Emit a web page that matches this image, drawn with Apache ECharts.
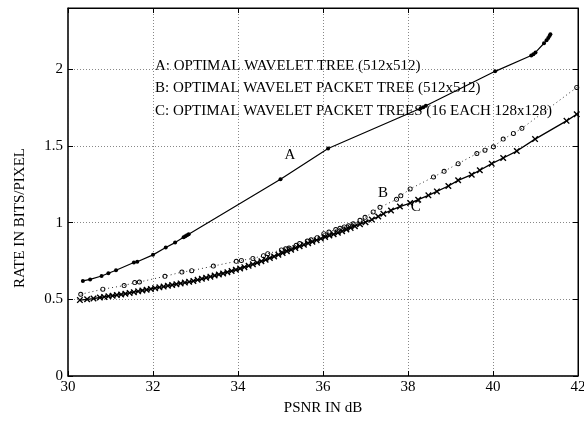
<!DOCTYPE html>
<html>
<head>
<meta charset="utf-8">
<script src="https://cdn.jsdelivr.net/npm/echarts@6/dist/echarts.min.js"></script>
<style>
html, body { margin: 0; padding: 0; background: #fff; }
#main { width: 584px; height: 423px; }
</style>
</head>
<body>
<div id="main"></div>
<script>
// curve A : optimal wavelet tree (512x512)
var aPsnr = [30.35, 30.52, 30.79, 30.95, 31.13, 31.55, 31.63, 32.00, 32.30, 32.52, 32.72, 32.76, 32.80, 32.84,
    35.00, 36.12, 38.30, 38.36, 38.42, 40.05, 40.90, 40.95, 41.00, 41.20, 41.26, 41.30, 41.33, 41.35];
var aRate = [0.620, 0.630, 0.652, 0.670, 0.690, 0.740, 0.745, 0.790, 0.838, 0.870, 0.905, 0.912, 0.918, 0.925,
    1.283, 1.484, 1.746, 1.752, 1.762, 1.987, 2.090, 2.098, 2.110, 2.170, 2.190, 2.205, 2.217, 2.228];

// curve B : optimal wavelet packet tree (512x512)
var bPsnr = [30.30, 30.82, 31.32, 31.57, 31.68, 32.28, 32.68, 32.91, 33.42, 33.96, 34.08, 34.35, 34.60, 34.70,
    35.02, 35.12, 35.20, 35.37, 35.45, 35.63, 35.72, 35.86, 36.02, 36.14, 36.30, 36.40, 36.50, 36.60, 36.71,
    36.87, 36.99, 37.18, 37.34, 37.73, 37.83, 38.05, 38.60, 38.85, 39.18, 39.62, 39.81, 40.01, 40.24, 40.48,
    40.68, 41.97];
var bRate = [0.533, 0.566, 0.590, 0.609, 0.613, 0.650, 0.678, 0.687, 0.717, 0.748, 0.754, 0.767, 0.785, 0.798,
    0.822, 0.830, 0.834, 0.852, 0.864, 0.880, 0.888, 0.902, 0.928, 0.939, 0.955, 0.963, 0.972, 0.980, 0.993,
    1.015, 1.035, 1.070, 1.100, 1.152, 1.175, 1.220, 1.298, 1.335, 1.385, 1.451, 1.473, 1.495, 1.545, 1.582,
    1.615, 1.882];

// curve C : optimal wavelet packet trees (16 each 128x128)
var cPsnr = [30.28, 30.45, 30.60, 30.75, 30.85, 30.95, 31.05, 31.15, 31.25, 31.35, 31.45, 31.55, 31.65, 31.75,
    31.85, 31.95, 32.05, 32.15, 32.25, 32.35, 32.45, 32.55, 32.65, 32.75, 32.85, 32.95, 33.05, 33.15, 33.25,
    33.35, 33.45, 33.55, 33.65, 33.75, 33.85, 33.95, 34.05, 34.15, 34.25, 34.35, 34.45, 34.55, 34.65, 34.75,
    34.85, 34.95, 35.05, 35.15, 35.25, 35.35, 35.45, 35.55, 35.65, 35.75, 35.85, 35.95, 36.05, 36.15, 36.25,
    36.35, 36.45, 36.55, 36.65, 36.75, 36.87, 37.00, 37.15, 37.30, 37.42, 37.60, 37.81, 38.05, 38.24, 38.48,
    38.68, 38.95, 39.18, 39.50, 39.69, 39.97, 40.24, 40.56, 40.99, 41.73, 41.97];
var cRate = [0.495, 0.500, 0.505, 0.512, 0.516, 0.520, 0.524, 0.528, 0.532, 0.537, 0.542, 0.547, 0.552, 0.558,
    0.563, 0.568, 0.573, 0.578, 0.583, 0.589, 0.594, 0.599, 0.604, 0.609, 0.614, 0.620, 0.627, 0.634, 0.641,
    0.648, 0.655, 0.662, 0.669, 0.677, 0.685, 0.693, 0.701, 0.710, 0.719, 0.728, 0.738, 0.748, 0.758, 0.769,
    0.780, 0.791, 0.802, 0.813, 0.824, 0.835, 0.846, 0.856, 0.866, 0.876, 0.886, 0.896, 0.906, 0.916, 0.925,
    0.934, 0.944, 0.955, 0.966, 0.977, 0.990, 1.003, 1.020, 1.040, 1.058, 1.080, 1.105, 1.128, 1.150, 1.178,
    1.204, 1.239, 1.276, 1.313, 1.342, 1.385, 1.422, 1.467, 1.545, 1.664, 1.707];

var legendLines = [
    'A: OPTIMAL WAVELET TREE (512x512)',
    'B: OPTIMAL WAVELET PACKET TREE (512x512)',
    'C: OPTIMAL WAVELET PACKET TREES (16 EACH 128x128)'
];
var curveTags = ['A', 'B', 'C'];
var tagPos = [[35.22, 1.44], [37.41, 1.19], [38.18, 1.10]];

var serif = '"Liberation Serif", "DejaVu Serif", serif';
// x-shaped marker for curve C, thin ring for curve B
var xMark = 'path://M0,1.5L1.5,0L5,3.5L8.5,0L10,1.5L6.5,5L10,8.5L8.5,10L5,6.5L1.5,10L0,8.5L3.5,5Z';
var ringMark = 'path://M5,0A5,5,0,1,1,5,10A5,5,0,1,1,5,0ZM5,1.8A3.2,3.2,0,1,0,5,8.2A3.2,3.2,0,1,0,5,1.8Z';

function pairs(xs, ys) {
    var out = [];
    for (var i = 0; i < xs.length; i++) out.push([xs[i], ys[i]]);
    return out;
}
function tag(i) {
    return {
        symbol: 'circle',
        symbolSize: 1,
        itemStyle: { color: 'rgba(0,0,0,0)' },
        label: { show: true, position: 'inside', formatter: curveTags[i], color: '#000', fontSize: 15, fontFamily: serif },
        data: [{ coord: tagPos[i] }]
    };
}

var chart = echarts.init(document.getElementById('main'));

var option = {
    animation: false,
    backgroundColor: '#fff',
    grid: { show: true, left: 68, right: 6, top: 8, bottom: 47, outerBoundsMode: 'none',
        borderColor: '#000', borderWidth: 1, backgroundColor: 'rgba(0,0,0,0)' },
    xAxis: [{
        type: 'value', min: 30, max: 42, interval: 2,
        axisLine: { onZero: false, lineStyle: { color: '#222', width: 1.5 } },
        axisTick: { inside: true, length: 5, lineStyle: { color: '#000' } },
        axisLabel: { color: '#000', fontSize: 15, fontFamily: serif, margin: 4 },
        splitLine: { show: true, lineStyle: { color: '#888', type: [1, 2], width: 1 } }
    }, {
        type: 'value', min: 30, max: 42, interval: 2, position: 'top',
        axisLine: { show: true, onZero: false, lineStyle: { color: '#000', width: 1 } },
        axisTick: { show: true, inside: true, length: 5, lineStyle: { color: '#000' } },
        axisLabel: { show: false },
        splitLine: { show: false }
    }],
    yAxis: [{
        type: 'value', min: 0, max: 2.4, interval: 0.5,
        axisLine: { show: true, onZero: false, lineStyle: { color: '#222', width: 1.5 } },
        axisTick: { show: true, inside: true, length: 5, lineStyle: { color: '#000' } },
        axisLabel: { color: '#000', fontSize: 15, fontFamily: serif, margin: 5, showMaxLabel: false },
        splitLine: { show: true, lineStyle: { color: '#888', type: [1, 2], width: 1 } }
    }, {
        type: 'value', min: 0, max: 2.4, interval: 0.5, position: 'right',
        axisLine: { show: true, onZero: false, lineStyle: { color: '#000', width: 1 } },
        axisTick: { show: true, inside: true, length: 5, lineStyle: { color: '#000' } },
        axisLabel: { show: false, showMaxLabel: false },
        splitLine: { show: false }
    }],
    graphic: [
        { type: 'text', left: 155, top: 59, style: { text: legendLines[0], font: '15px ' + serif, fill: '#000' } },
        { type: 'text', left: 155, top: 81, style: { text: legendLines[1], font: '15px ' + serif, fill: '#000' } },
        { type: 'text', left: 155, top: 104, style: { text: legendLines[2], font: '15px ' + serif, fill: '#000' } },
        { type: 'text', x: 323, y: 408, style: { text: 'PSNR IN dB', font: '15px ' + serif, fill: '#000', align: 'center', verticalAlign: 'middle' } },
        { type: 'text', x: 20, y: 218, rotation: Math.PI / 2, style: { text: 'RATE IN BITS/PIXEL', font: '15px ' + serif, fill: '#000', align: 'center', verticalAlign: 'middle' } }
    ],
    series: [{
        name: 'A', type: 'line', data: pairs(aPsnr, aRate),
        symbol: 'circle', symbolSize: 4, showAllSymbol: true,
        itemStyle: { color: '#000' },
        lineStyle: { color: '#000', width: 1.2 },
        markPoint: tag(0)
    }, {
        name: 'B', type: 'line', data: pairs(bPsnr, bRate),
        symbol: ringMark, symbolSize: 5, showAllSymbol: true,
        itemStyle: { color: '#000' },
        lineStyle: { color: '#333', width: 1, type: [1, 3] },
        markPoint: tag(1)
    }, {
        name: 'C', type: 'line', data: pairs(cPsnr, cRate),
        symbol: xMark, symbolSize: 6.5, showAllSymbol: true,
        itemStyle: { color: '#000' },
        lineStyle: { color: '#000', width: 1.3 },
        markPoint: tag(2)
    }, {
        // empty series so the top and right box axes are drawn with ticks
        name: 'box', type: 'line', xAxisIndex: 1, yAxisIndex: 1, data: [], silent: true
    }]
};

chart.setOption(option);
</script>
</body>
</html>
